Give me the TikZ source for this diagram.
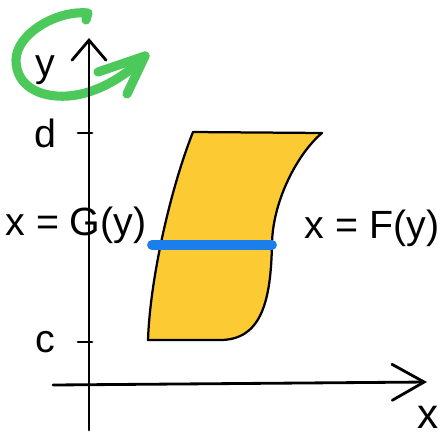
\documentclass[tikz,border=0pt]{standalone}
\usepackage{fontspec}
\setmainfont{Liberation Sans}
\usetikzlibrary{arrows.meta, positioning}
\definecolor{region}{HTML}{FCCB33}
\definecolor{slice}{HTML}{1B7FEB}
\definecolor{spin}{HTML}{4DC95B}

\begin{document}
\begin{tikzpicture}[
    x=0.025cm, y=-0.025cm,
    axis/.style={line width=2pt, line cap=round},
    edge/.style={line width=1.6pt, line join=round},
    lbl/.style={font=\fontsize{28}{32}\selectfont, inner sep=0pt},
    spinarrow/.style={line width=6.5pt, color=spin, line cap=round, line join=round},
]
    \useasboundingbox (0,0) rectangle (448,443);

    % region between x = G(y) and x = F(y)
    \coordinate (tl) at (193,132);
    \coordinate (tr) at (322,133);
    \coordinate (br) at (220,340);
    \coordinate (bl) at (148,340);
    \coordinate (sl) at (152,245);
    \coordinate (sr) at (272,245);
    \path[fill=region, draw, edge] (bl) .. controls (150,280) and (170,190) .. (tl) -- (tr)
        .. controls (298,153) and (273,200) .. (272,243)
        .. controls (271,300) and (262,340) .. (br) -- cycle;
    \draw[slice, line width=7pt, line cap=round] (sl) -- (sr);

    % rotation about the y axis
    \coordinate (tip) at (145,56);
    \draw[spinarrow] (86,20) -- (88,13) .. controls (55,10) and (16,35) .. (16,60)
        .. controls (16,86) and (40,98) .. (68,96)
        .. controls (96,94) and (125,77) .. (tip);
    \draw[spinarrow] (98,72) -- (tip) -- (127,94);

    % axes
    \coordinate (ybot) at (89,430);
    \coordinate (ytop) at (89,38);
    \coordinate (xleft) at (53,385);
    \coordinate (xright) at (427,382);
    \draw[axis, -{Straight Barb[length=0.5cm, width=0.85cm, line cap=round]}] (ybot) -- (ytop);
    \draw[axis, -{Straight Barb[length=0.8cm, width=0.9cm, line cap=round]}] (xleft) -- (xright);

    \foreach \n/\v in {d/133, c/342} {
        \draw[axis] (78,\v) -- (92,\v);
        \node[lbl] (\n) at (45,\v) {\n};
    }

    \node[lbl] (ylab) at (45,70) {y};
    \node[lbl, font=\fontsize{30}{34}\selectfont] (xlab) at (428,417) {x};
    \node[lbl] (gleft) at (76,225) {x = G(y)};
    \node[lbl] (fright) at (372,228) {x = F(y)};
\end{tikzpicture}
\end{document}
